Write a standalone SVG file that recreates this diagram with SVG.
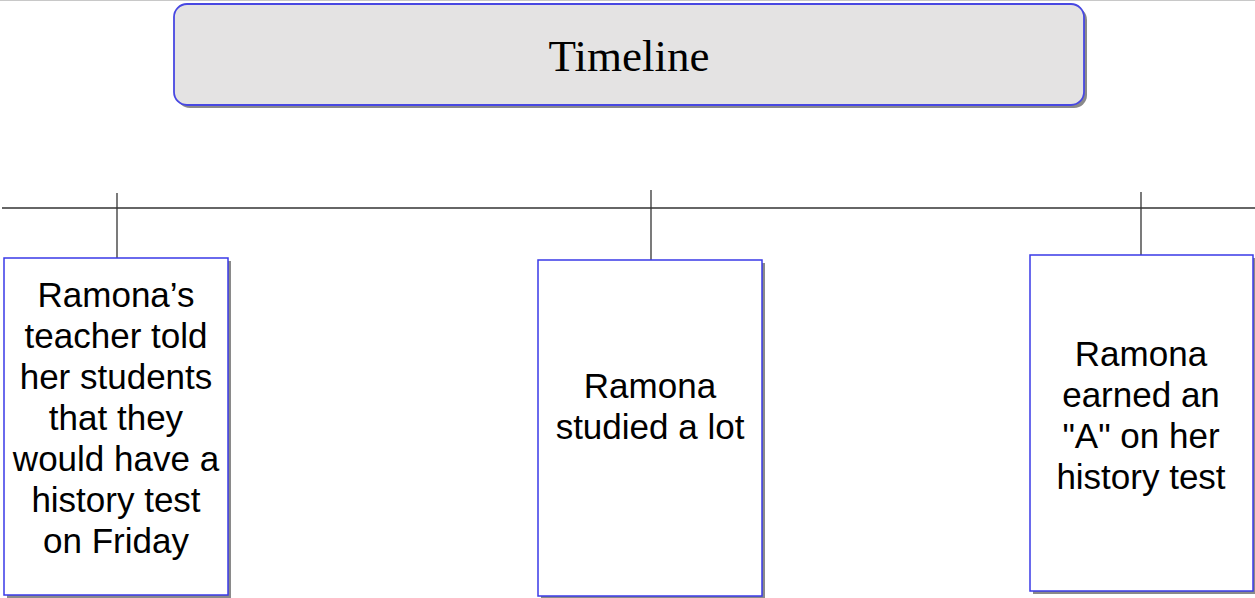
<svg xmlns="http://www.w3.org/2000/svg" width="1255" height="598" viewBox="0 0 1255 598">
<style>
.shadow{fill:#8a8a8a}
.box{fill:#ffffff;stroke:#3a3ae8;stroke-width:1.5}
.title{fill:#e4e3e3;stroke:#4848e2;stroke-width:1.8}
.conn{stroke:#333333;stroke-width:1.3;fill:none}
.t{font-family:"Liberation Sans",Arial,sans-serif;font-size:35px;fill:#000;text-anchor:middle}
.tt{font-family:"Liberation Serif","Times New Roman",serif;font-size:45px;fill:#000;text-anchor:middle}
</style>
<rect x="0" y="0" width="1255" height="598" fill="#ffffff"/>
<line x1="0" y1="0.5" x2="1255" y2="0.5" stroke="#c8c8c8" stroke-width="1"/>
<g id="title">
<rect class="shadow" x="177" y="7" width="910" height="101" rx="13"/>
<rect class="title" x="174" y="4" width="910" height="101" rx="13"/>
<text class="tt" x="629" y="71">Timeline</text>
</g>
<g id="connectors">
<line class="conn" x1="2" y1="208" x2="1255" y2="208"/>
<line class="conn" x1="117" y1="193" x2="117" y2="258"/>
<line class="conn" x1="651" y1="190" x2="651" y2="260"/>
<line class="conn" x1="1141" y1="192" x2="1141" y2="255"/>
</g>
<g id="event1">
<rect class="shadow" x="7" y="261" width="224" height="337"/>
<rect class="box" x="4" y="258" width="224" height="337"/>
<text class="t" x="116" y="307">Ramona’s</text>
<text class="t" x="116" y="348">teacher told</text>
<text class="t" x="116" y="389">her students</text>
<text class="t" x="116" y="430">that they</text>
<text class="t" x="116" y="471">would have a</text>
<text class="t" x="116" y="512">history test</text>
<text class="t" x="116" y="553">on Friday</text>
</g>
<g id="event2">
<rect class="shadow" x="541" y="263" width="224" height="336"/>
<rect class="box" x="538" y="260" width="224" height="336"/>
<text class="t" x="650" y="398">Ramona</text>
<text class="t" x="650" y="439">studied a lot</text>
</g>
<g id="event3">
<rect class="shadow" x="1033" y="258" width="223" height="336"/>
<rect class="box" x="1030" y="255" width="223" height="336"/>
<text class="t" x="1141" y="366">Ramona</text>
<text class="t" x="1141" y="407">earned an</text>
<text class="t" x="1141" y="448">"A" on her</text>
<text class="t" x="1141" y="489">history test</text>
</g>
</svg>
